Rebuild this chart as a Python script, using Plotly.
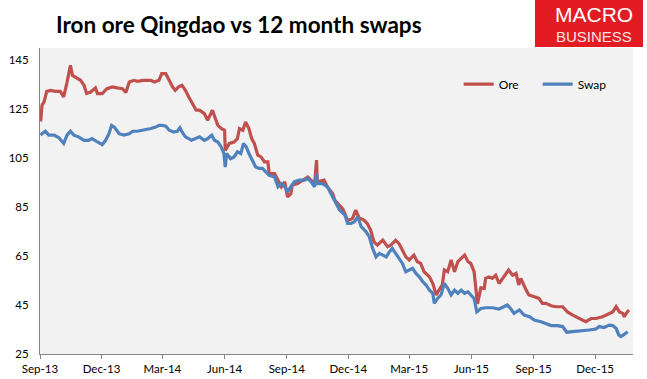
import plotly.graph_objects as go

title_text = "Iron ore Qingdao vs 12 month swaps"

ore_dates = [
    "2013-09-02", "2013-09-04", "2013-09-07", "2013-09-11", "2013-09-17", "2013-09-24", "2013-10-01",
    "2013-10-06", "2013-10-11", "2013-10-16", "2013-10-19", "2013-10-24", "2013-10-31", "2013-11-05",
    "2013-11-09", "2013-11-15", "2013-11-22", "2013-11-25", "2013-12-02", "2013-12-09", "2013-12-17",
    "2013-12-24", "2014-01-01", "2014-01-06", "2014-01-11", "2014-01-18", "2014-01-23", "2014-01-31",
    "2014-02-12", "2014-02-17", "2014-02-24", "2014-02-28", "2014-03-06", "2014-03-11", "2014-03-16",
    "2014-03-20", "2014-03-25", "2014-03-30", "2014-04-04", "2014-04-09", "2014-04-14", "2014-04-20",
    "2014-04-25", "2014-05-02", "2014-05-07", "2014-05-14", "2014-05-22", "2014-05-27", "2014-06-01",
    "2014-06-02", "2014-06-08", "2014-06-15", "2014-06-20", "2014-06-23", "2014-06-28", "2014-07-02",
    "2014-07-07", "2014-07-11", "2014-07-15", "2014-07-20", "2014-07-25", "2014-07-30", "2014-08-04",
    "2014-08-06", "2014-08-14", "2014-08-19", "2014-08-24", "2014-08-29", "2014-09-02", "2014-09-07",
    "2014-09-09", "2014-09-17", "2014-09-24", "2014-10-02", "2014-10-07", "2014-10-12", "2014-10-15",
    "2014-10-16", "2014-10-26", "2014-10-31", "2014-11-08", "2014-11-11", "2014-11-23", "2014-11-30",
    "2014-12-07", "2014-12-12", "2014-12-17", "2014-12-24", "2014-12-29", "2015-01-03", "2015-01-08",
    "2015-01-13", "2015-01-21", "2015-01-28", "2015-02-02", "2015-02-09", "2015-02-14", "2015-02-19",
    "2015-02-24", "2015-03-01", "2015-03-08", "2015-03-13", "2015-03-18", "2015-03-23", "2015-03-31",
    "2015-04-05", "2015-04-10", "2015-04-14", "2015-04-19", "2015-04-22", "2015-04-27", "2015-05-02",
    "2015-05-07", "2015-05-12", "2015-05-17", "2015-05-22", "2015-05-27", "2015-05-31", "2015-06-05",
    "2015-06-10", "2015-06-15", "2015-06-20", "2015-06-22", "2015-06-27", "2015-07-02", "2015-07-07",
    "2015-07-12", "2015-07-17", "2015-07-22", "2015-07-26", "2015-08-01", "2015-08-06", "2015-08-10",
    "2015-08-13", "2015-08-21", "2015-08-25", "2015-09-02", "2015-09-09", "2015-09-14", "2015-09-19",
    "2015-09-27", "2015-10-04", "2015-10-14", "2015-10-21", "2015-10-29", "2015-11-07", "2015-11-17",
    "2015-11-25", "2015-12-02", "2015-12-12", "2015-12-22", "2015-12-27", "2016-01-01", "2016-01-06",
    "2016-01-11", "2016-01-13", "2016-01-16", "2016-01-20",
]
ore_values = [
    120.0, 126.6, 128.0, 132.3, 132.7, 132.3, 132.3,
    130.0, 136.0, 142.9, 138.8, 138.0, 136.8, 134.8,
    131.4, 132.0, 133.7, 131.4, 131.4, 133.4, 134.1,
    133.7, 133.4, 131.8, 136.1, 136.8, 136.4, 136.8,
    136.8, 136.1, 136.8, 139.5, 139.5, 136.8, 134.1,
    132.7, 134.1, 134.8, 132.7, 130.0, 127.3, 124.6,
    124.6, 123.2, 120.5, 124.6, 118.4, 117.1, 116.4,
    108.2, 111.0, 111.6, 113.0, 117.1, 116.4, 119.8,
    117.1, 113.0, 111.0, 106.2, 105.5, 103.5, 103.5,
    98.7, 98.7, 96.0, 93.3, 95.3, 89.2, 90.5,
    94.0, 94.6, 96.0, 97.3, 96.0, 94.0, 104.2,
    95.3, 96.0, 93.3, 90.5, 87.8, 84.2, 79.5,
    80.3, 83.8, 80.6, 79.7, 78.3, 75.6, 70.8,
    69.5, 71.5, 68.8, 69.5, 71.5, 70.1, 67.4,
    64.7, 63.4, 65.4, 62.7, 62.0, 58.6, 56.5,
    53.8, 49.1, 51.1, 53.2, 59.3, 58.6, 63.4,
    58.6, 62.7, 64.1, 65.4, 62.7, 62.0, 58.6,
    45.5, 52.0, 51.8, 55.9, 56.5, 55.9, 57.2,
    53.8, 55.9, 57.9, 59.3, 57.2, 57.9, 53.2,
    55.9, 51.1, 49.1, 48.4, 47.7, 45.7, 45.7,
    44.7, 44.3, 44.3, 42.2, 40.9, 39.5, 38.2,
    39.5, 39.5, 40.2, 41.6, 42.2, 44.3, 42.2,
    41.6, 40.2, 41.6, 43.0,
]

swap_dates = [
    "2013-09-02", "2013-09-04", "2013-09-09", "2013-09-14", "2013-09-22", "2013-09-29", "2013-10-06",
    "2013-10-11", "2013-10-16", "2013-10-21", "2013-10-28", "2013-11-05", "2013-11-12", "2013-11-17",
    "2013-11-25", "2013-12-02", "2013-12-07", "2013-12-12", "2013-12-16", "2013-12-20", "2013-12-27",
    "2014-01-03", "2014-01-11", "2014-01-16", "2014-01-23", "2014-02-02", "2014-02-12", "2014-02-19",
    "2014-02-24", "2014-03-01", "2014-03-06", "2014-03-11", "2014-03-18", "2014-03-23", "2014-03-27",
    "2014-03-30", "2014-04-04", "2014-04-09", "2014-04-13", "2014-04-25", "2014-05-02", "2014-05-07",
    "2014-05-13", "2014-05-17", "2014-05-22", "2014-05-27", "2014-05-31", "2014-06-02", "2014-06-04",
    "2014-06-10", "2014-06-15", "2014-06-20", "2014-06-25", "2014-06-29", "2014-07-03", "2014-07-07",
    "2014-07-12", "2014-07-17", "2014-07-22", "2014-07-27", "2014-08-01", "2014-08-06", "2014-08-14",
    "2014-08-19", "2014-08-24", "2014-08-29", "2014-09-02", "2014-09-07", "2014-09-12", "2014-09-19",
    "2014-09-27", "2014-10-02", "2014-10-07", "2014-10-12", "2014-10-15", "2014-10-16", "2014-10-24",
    "2014-10-31", "2014-11-05", "2014-11-11", "2014-11-18", "2014-11-26", "2014-11-30", "2014-12-05",
    "2014-12-10", "2014-12-15", "2014-12-20", "2014-12-27", "2015-01-01", "2015-01-06", "2015-01-11",
    "2015-01-16", "2015-01-21", "2015-01-26", "2015-01-31", "2015-02-04", "2015-02-09", "2015-02-14",
    "2015-02-19", "2015-02-24", "2015-03-01", "2015-03-06", "2015-03-11", "2015-03-16", "2015-03-21",
    "2015-03-26", "2015-03-31", "2015-04-05", "2015-04-07", "2015-04-12", "2015-04-17", "2015-04-22",
    "2015-04-27", "2015-05-02", "2015-05-07", "2015-05-12", "2015-05-17", "2015-05-22", "2015-05-27",
    "2015-05-31", "2015-06-05", "2015-06-09", "2015-06-15", "2015-06-22", "2015-07-02", "2015-07-12",
    "2015-07-19", "2015-07-24", "2015-07-29", "2015-08-03", "2015-08-11", "2015-08-18", "2015-08-26",
    "2015-09-02", "2015-09-12", "2015-09-19", "2015-09-27", "2015-10-06", "2015-10-14", "2015-10-20",
    "2015-10-29", "2015-11-07", "2015-11-22", "2015-12-02", "2015-12-07", "2015-12-14", "2015-12-22",
    "2015-12-27", "2016-01-01", "2016-01-05", "2016-01-08", "2016-01-13", "2016-01-18",
]
swap_values = [
    114.4, 115.0, 116.0, 114.4, 114.4, 113.3, 111.0,
    114.4, 116.0, 114.4, 113.7, 112.3, 112.3, 113.0,
    111.6, 110.5, 112.3, 115.0, 118.4, 117.7, 115.0,
    114.4, 115.0, 116.0, 116.0, 116.4, 117.1, 117.7,
    118.4, 118.4, 118.1, 116.4, 115.7, 116.0, 117.4,
    115.7, 113.7, 113.0, 112.3, 113.7, 112.3, 113.0,
    114.4, 112.3, 111.6, 109.6, 106.9, 101.4, 106.9,
    104.8, 105.5, 107.6, 106.9, 111.0, 109.6, 106.9,
    104.2, 101.4, 100.8, 100.8, 99.4, 98.0, 97.3,
    93.3, 94.6, 93.3, 91.3, 93.3, 95.3, 96.0,
    96.0, 96.7, 95.3, 93.3, 98.7, 94.6, 94.6,
    93.3, 90.5, 87.8, 83.8, 81.8, 78.3, 78.3,
    79.0, 81.1, 77.0, 75.0, 72.9, 68.1, 64.7,
    66.1, 65.4, 64.7, 66.8, 68.1, 66.1, 64.1,
    62.0, 58.6, 59.3, 60.0, 57.9, 56.5, 54.5,
    53.2, 51.1, 49.8, 45.7, 47.7, 49.1, 53.8,
    51.8, 49.1, 51.1, 49.8, 51.1, 49.8, 50.4,
    49.1, 47.7, 42.2, 43.6, 43.9, 43.9, 43.4,
    44.3, 45.0, 43.6, 41.6, 43.0, 40.9, 40.2,
    38.9, 38.2, 37.5, 36.6, 36.6, 36.2, 33.9,
    34.1, 34.4, 34.8, 35.2, 36.2, 35.8, 36.8,
    36.6, 35.5, 32.8, 32.1, 33.0, 34.1,
]

y_ticks = [25, 45, 65, 85, 105, 125, 145]
x_tick_dates = ["2013-09-01", "2013-12-01", "2014-03-01", "2014-06-01", "2014-09-01", "2014-12-01",
                "2015-03-01", "2015-06-01", "2015-09-01", "2015-12-01"]
x_tick_labels = ["Sep-13", "Dec-13", "Mar-14", "Jun-14", "Sep-14", "Dec-14",
                 "Mar-15", "Jun-15", "Sep-15", "Dec-15"]

ORE_COLOR = "#C0504D"
SWAP_COLOR = "#4F81BD"
FONT = "Lato"

fig = go.Figure()
fig.add_trace(go.Scatter(x=ore_dates, y=ore_values, mode="lines", name="Ore",
                         line=dict(color=ORE_COLOR, width=3.2)))
fig.add_trace(go.Scatter(x=swap_dates, y=swap_values, mode="lines", name="Swap",
                         line=dict(color=SWAP_COLOR, width=3.2)))

fig.update_layout(
    width=647, height=379,
    margin=dict(l=40, r=14, t=48, b=25),
    paper_bgcolor="white",
    plot_bgcolor="#F2F2F2",
    font=dict(family=FONT, size=11.5, color="#000000"),
    title=dict(text="<b>" + title_text + "</b>", x=56 / 647, xanchor="left", xref="container",
               y=1 - 25 / 379, yanchor="middle", yref="container",
               font=dict(family=FONT, size=22.5, color="#000000")),
    showlegend=True,
    legend=dict(orientation="h", x=0.706, y=0.882, xanchor="left", yanchor="middle",
                bgcolor="rgba(0,0,0,0)", font=dict(family=FONT, size=12),
                entrywidth=34, itemwidth=30),
    xaxis=dict(type="date", range=["2013-09-01", "2016-01-26"], automargin=False,
               tickmode="array", tickvals=x_tick_dates, ticktext=x_tick_labels,
               ticks="outside", ticklen=4, tickcolor="#868686",
               showline=True, linecolor="#868686", linewidth=1,
               showgrid=False, zeroline=False),
    yaxis=dict(range=[25, 150], tickmode="array", tickvals=y_ticks, automargin=False,
               ticks="", showline=True, linecolor="#868686", linewidth=1,
               showgrid=False, zeroline=False, ticklabelstandoff=8),
)

# Logo box (Macro Business)
fig.add_shape(type="rect", xref="paper", yref="paper",
              x0=(535 - 40) / 593, x1=(643 - 40) / 593,
              y0=(354 - 47) / 306, y1=(354 + 5) / 306,
              fillcolor="#E31B23", line=dict(width=0), layer="above")
fig.add_annotation(text="MACRO", xref="paper", yref="paper",
                   x=(594 - 40) / 593, y=(354 - 15) / 306, showarrow=False,
                   xanchor="center", yanchor="middle",
                   font=dict(family="Liberation Sans", size=21, color="white"))
fig.add_annotation(text="BUSINESS", xref="paper", yref="paper",
                   x=(594 - 40) / 593, y=(354 - 36.5) / 306, showarrow=False,
                   xanchor="center", yanchor="middle",
                   font=dict(family="Liberation Sans", size=15, color="#FBE3E3"))

fig.write_html("out.html", config={"displayModeBar": False},
               post_script="document.body.style.margin='0';")
